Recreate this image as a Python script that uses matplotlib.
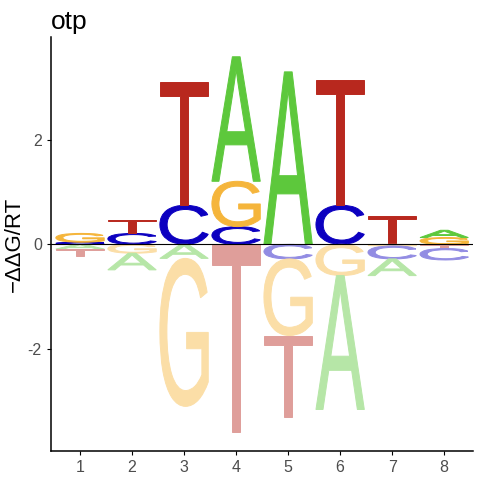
import numpy as np
import matplotlib
matplotlib.use('Agg')
import matplotlib.pyplot as plt
from matplotlib.textpath import TextPath
from matplotlib.patches import PathPatch
from matplotlib.font_manager import FontProperties
from matplotlib.transforms import Affine2D
from matplotlib.colors import to_rgb

plt.rcParams['axes.unicode_minus'] = False
plt.rcParams['font.family'] = ['Liberation Sans', 'DejaVu Sans']

# energy logo for otp, one value per position and base (signed)
positions = [1, 2, 3, 4, 5, 6, 7, 8]
A = [-0.09, -0.32, -0.27, 2.39, 3.31, -2.57, -0.32, 0.14]
C = [0.04, 0.21, 0.75, 0.34, -0.28, 0.75, -0.25, -0.22]
G = [0.17, -0.17, -2.84, 0.87, -1.47, -0.60, -0.03, 0.13]
T = [-0.13, 0.26, 2.36, -3.61, -1.57, 2.41, 0.55, -0.08]

bases = {'A': A, 'C': C, 'G': G, 'T': T}
cols = {'A': '#5dc83c', 'C': '#0c00c0', 'G': '#f5b53b', 'T': '#b8281e'}

fp = FontProperties(family='Liberation Sans', weight='normal')
letter_w = 0.93


def lighten(c, a=0.45):
    r = np.array(to_rgb(c))
    return tuple(a * r + (1 - a))


def draw_letter(ax, ch, x, y0, h, color):
    tp = TextPath((0, 0), ch, size=1, prop=fp)
    bb = tp.get_extents()
    tr = Affine2D().translate(-bb.x0, -bb.y0) \
        .scale(letter_w / bb.width, h / bb.height) \
        .translate(x - letter_w / 2, y0)
    p = tr.transform_path(tp)
    ax.add_patch(PathPatch(p, facecolor=color, edgecolor=color, lw=0.7))


fig = plt.figure(figsize=(4.8, 4.8), dpi=100)
ax = fig.add_axes([0.106, 0.06, 0.879, 0.863])

for i, pos in enumerate(positions):
    vals = [(b, bases[b][i]) for b in bases]
    pos_vals = sorted([v for v in vals if v[1] > 0], key=lambda v: v[1])
    neg_vals = sorted([v for v in vals if v[1] < 0], key=lambda v: -v[1])
    y = 0
    for b, v in pos_vals:
        draw_letter(ax, b, pos, y, v, cols[b])
        y += v
    y = 0
    for b, v in neg_vals:
        draw_letter(ax, b, pos, y + v, -v, lighten(cols[b]))
        y += v

ax.axhline(0, color='black', lw=0.8)
ax.set_xlim(0.44, 8.55)
ax.set_ylim(-3.97, 3.98)
ax.set_xticks(positions)
ax.set_yticks([-2, 0, 2])
ax.tick_params(colors='#4d4d4d', labelsize=11.5, length=3, width=0.8)
ax.tick_params(axis='both', color='black')
for s in ['top', 'right']:
    ax.spines[s].set_visible(False)
for s in ['left', 'bottom']:
    ax.spines[s].set_linewidth(1.1)
ax.set_ylabel('\u2212\u0394\u0394G/RT', fontsize=16)
ax.yaxis.set_label_coords(-0.062, 0.5)
ax.set_title('otp', loc='left', fontsize=19, pad=6)

fig.savefig('out.png', dpi=100)
